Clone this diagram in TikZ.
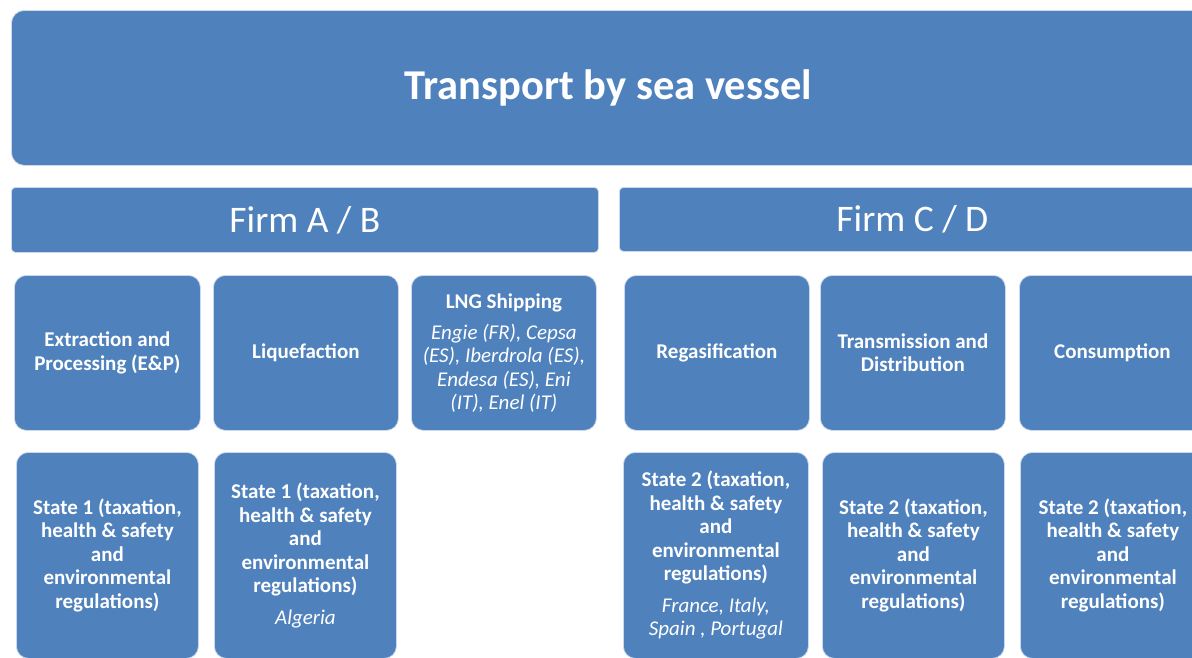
\documentclass[tikz,border=0pt]{standalone}
\usepackage{fontspec}
\setmainfont{Carlito}
\definecolor{lnblue}{HTML}{4F81BD}
\begin{document}
\begin{tikzpicture}[x=1pt,y=-1pt,
  blk/.style={fill=lnblue, draw=white!70!lnblue, line width=0.8pt, text=white, align=center, anchor=north west, inner sep=2pt},
  big/.style={blk, rounded corners=13pt},
  bar/.style={blk, rounded corners=4pt},
  cell/.style={blk, rounded corners=12pt, font=\fontsize{21}{23.5}\selectfont\bfseries},
]
\useasboundingbox (0,0) rectangle (1192,657);
\clip (0,0) rectangle (1192,657);
% banner
\node[big, minimum width=1194pt, minimum height=155pt, font=\fontsize{42.5}{48}\selectfont\bfseries] (sea) at (11,10) {Transport by sea vessel};
% firm bars
\node[bar, minimum width=587pt, minimum height=65pt, font=\fontsize{37.5}{44}\selectfont] (fab) at (11,187) {Firm A / B};
\node[bar, minimum width=586pt, minimum height=64pt, font=\fontsize{37.5}{44}\selectfont] (fcd) at (619,187) {Firm C / D};
% row 2
\node[cell, minimum width=186pt, minimum height=155pt] (ep) at (14,275) {Extraction and\\Processing (E\&P)};
\node[cell, minimum width=185pt, minimum height=155pt] (liq) at (213,275) {Liquefaction};
\node[cell, minimum width=185pt, minimum height=155pt] (ship) at (411,275) {LNG Shipping\\[7.5pt]\mdseries\itshape Engie (FR), Cepsa\\\mdseries\itshape (ES), Iberdrola (ES),\\\mdseries\itshape Endesa (ES), Eni\\\mdseries\itshape (IT), Enel (IT)};
\node[cell, minimum width=185pt, minimum height=155pt] (reg) at (624,275) {Regasification};
\node[cell, minimum width=185pt, minimum height=155pt] (td) at (820,275) {Transmission and\\Distribution};
\node[cell, minimum width=186pt, minimum height=155pt] (con) at (1019,275) {Consumption};
% row 3
\node[cell, minimum width=182pt, minimum height=206pt] (s1a) at (16,452) {State 1 (taxation,\\health \& safety\\and\\environmental\\regulations)};
\node[cell, minimum width=182pt, minimum height=206pt] (s1b) at (214,452) {State 1 (taxation,\\health \& safety\\and\\environmental\\regulations)\\[8pt]\mdseries\itshape Algeria};
\node[cell, minimum width=185pt, minimum height=206pt] (s2a) at (623,452) {State 2 (taxation,\\health \& safety\\and\\environmental\\regulations)\\[8pt]\mdseries\itshape France, Italy,\\\mdseries\itshape Spain , Portugal};
\node[cell, minimum width=182pt, minimum height=206pt] (s2b) at (822,452) {State 2 (taxation,\\health \& safety\\and\\environmental\\regulations)};
\node[cell, minimum width=185pt, minimum height=206pt] (s2c) at (1020,452) {State 2 (taxation,\\health \& safety\\and\\environmental\\regulations)};
\end{tikzpicture}
\end{document}
